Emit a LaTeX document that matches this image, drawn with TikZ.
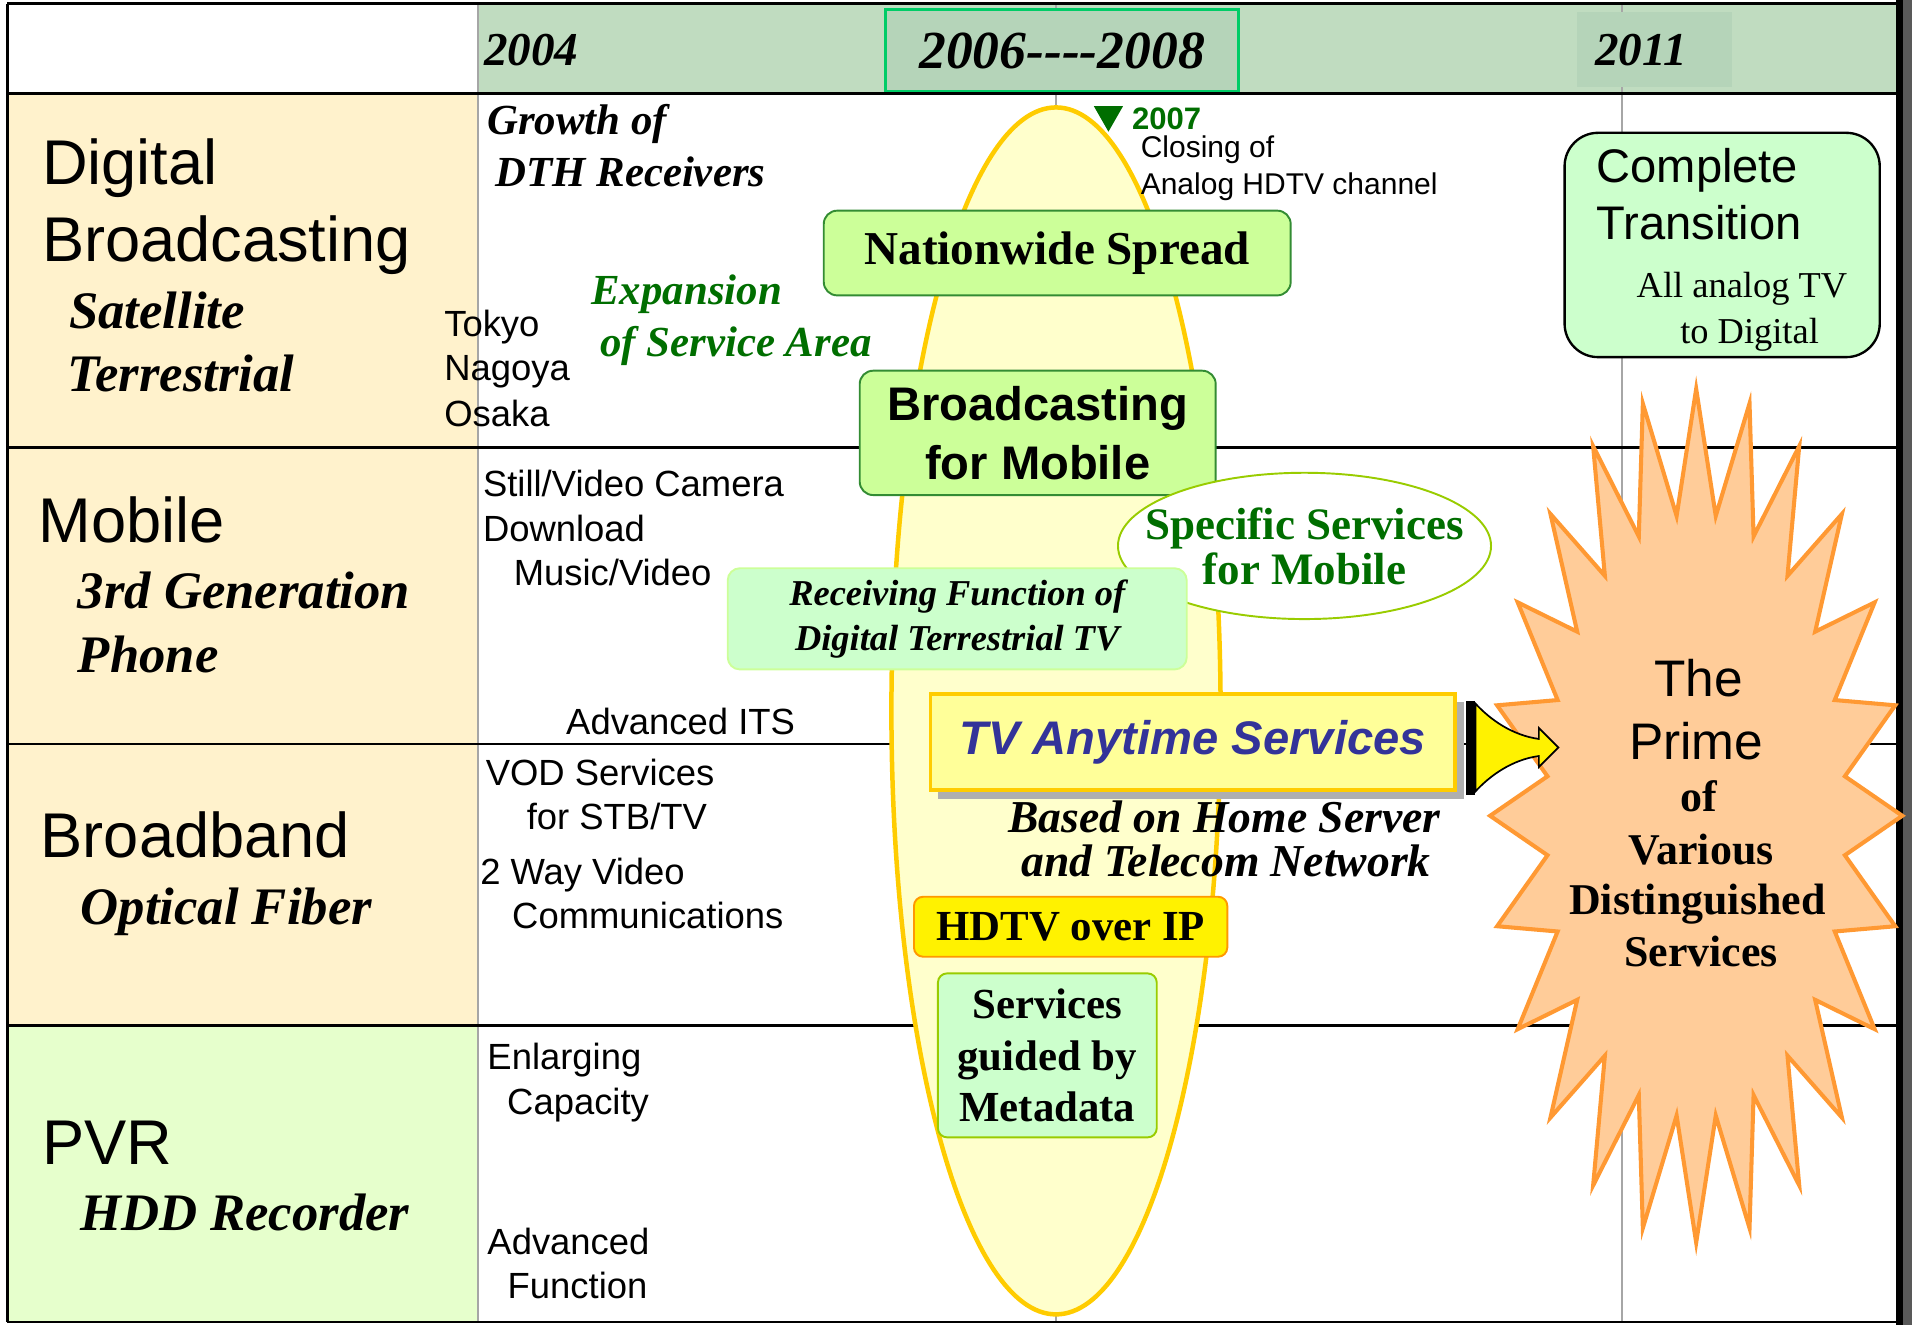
\documentclass[tikz,border=0pt]{standalone}
\usepackage{fontspec}
\setmainfont{Liberation Serif}
\setsansfont{Liberation Sans}
\usetikzlibrary{shapes.geometric}

\definecolor{hdrgreen}{RGB}{192,220,192}
\definecolor{hdrdark}{RGB}{181,212,185}
\definecolor{hdrline}{RGB}{0,204,102}
\definecolor{beige}{RGB}{255,242,204}
\definecolor{pvrgreen}{RGB}{230,255,204}
\definecolor{gridgray}{RGB}{166,166,166}
\definecolor{ovalfill}{RGB}{255,255,204}
\definecolor{ovalline}{RGB}{255,204,0}
\definecolor{leaf}{RGB}{204,255,153}
\definecolor{leafline}{RGB}{51,140,51}
\definecolor{mint}{RGB}{204,255,204}
\definecolor{limeline}{RGB}{153,204,0}
\definecolor{darkgreen}{RGB}{0,110,0}
\definecolor{tvblue}{RGB}{51,51,153}
\definecolor{tvfill}{RGB}{255,255,153}
\definecolor{shadowgray}{RGB}{175,175,175}
\definecolor{starfill}{RGB}{255,204,153}
\definecolor{starline}{RGB}{255,153,51}
\definecolor{hdtvline}{RGB}{255,153,0}

\newcommand{\fnt}[2]{\fontsize{#1}{#2}\selectfont}
\newcommand{\hy}{\mbox{-}}

\tikzset{
	lbltxt/.style={anchor=base west, inner sep=0pt},
	coltxt/.style={lbltxt, font=\sffamily\fnt{17}{21}},
	rowhead/.style={lbltxt, font=\sffamily\fnt{29.5}{36}},
	rowsub/.style={lbltxt, font=\bfseries\itshape\fnt{24.6}{29}},
	yrtxt/.style={lbltxt, font=\bfseries\itshape\fnt{22}{26}},
	dthtxt/.style={lbltxt, font=\bfseries\itshape\fnt{20}{24}},
	startxt/.style={anchor=base, inner sep=0pt, font=\bfseries\fnt{20.5}{24}},
	gridline/.style={draw=gridgray, line width=1.1pt},
	rowline/.style={line width=1.2pt},
	greenbox/.style={draw=leafline, fill=leaf, rounded corners=0.22cm, line width=0.9pt, inner sep=0pt},
}

\begin{document}
\begin{tikzpicture}[x=0.02cm, y=-0.02cm]
	\useasboundingbox (0,0) rectangle (1568,1087);
	% cells
	\fill[hdrgreen] (392,3) rectangle (1555,77);
	\fill[beige] (6,77) rectangle (392,841);
	\fill[pvrgreen] (6,841) rectangle (392,1084);
	% year lines
	\draw[gridline] (392,3) -- (392,1084);
	\draw[gridline] (866,3) -- (866,1084);
	\draw[gridline] (1330,3) -- (1330,1084);
	% header
	\node[draw=hdrline, fill=hdrdark, line width=1.5pt, minimum width=5.8cm, minimum height=1.34cm, inner sep=0pt, font=\bfseries\itshape\fnt{25}{30}] (y0608) at (871,41.5) {2006\hy\hy\hy\hy 2008};
	\node[fill=hdrdark, minimum width=2.55cm, minimum height=1.24cm, inner sep=0pt] (y11box) at (1356.8,40.6) {};
	\node[yrtxt] (y04) at (396.7,54.1) {2004};
	\node[yrtxt] (y11) at (1307.7,53.9) {2011};
	% rows
	\draw[rowline] (6,3) -- (1555,3);
	\draw[rowline, line width=1.4pt] (6,77) -- (1555,77);
	\foreach \y in {367,610,841,1084}
		\draw[rowline] (6,\y) -- (1555,\y);
	\draw[line width=1.5pt] (6,3) -- (6,1084);
	\fill (1555,0) rectangle (1561,1087);
	\fill[black!65] (1561,0) rectangle (1568,1087);

	% row labels
	\node[rowhead] (digital) at (34.1,151.7) {Digital};
	\node[rowhead] (broadc) at (34.1,214.6) {Broadcasting};
	\node[rowsub] (sat) at (56.3,269.3) {Satellite};
	\node[rowsub] (ter) at (55.3,321.2) {Terrestrial};
	\node[rowhead] (mobile) at (31.3,445) {Mobile};
	\node[rowsub] (gen) at (63.5,498.8) {3rd Generation};
	\node[rowsub] (phone) at (63.5,551.5) {Phone};
	\node[rowhead] (bband) at (33.1,703.3) {Broadband};
	\node[rowsub] (fiber) at (65.8,757.9) {Optical Fiber};
	\node[rowhead] (pvr) at (34.5,954.6) {PVR};
	\node[rowsub] (hdd) at (65.3,1008.8) {HDD Recorder};

	% 2004 column
	\node[dthtxt] (growth) at (399.2,110.7) {Growth of};
	\node[dthtxt] (dth) at (405.8,153.1) {DTH Receivers};
	\node[dthtxt, text=darkgreen] (expan) at (484.6,250.1) {Expansion};
	\node[dthtxt, text=darkgreen] (area) at (492,292.5) {of Service Area};
	\node[coltxt] (tokyo) at (364,276) {Tokyo};
	\node[coltxt] (nagoya) at (364,312.4) {Nagoya};
	\node[coltxt] (osaka) at (364,349.4) {Osaka};
	\node[coltxt] (still) at (395.8,407) {Still/Video Camera};
	\node[coltxt] (dl) at (395.8,444) {Download};
	\node[coltxt] (music) at (421,480) {Music/Video};
	\node[coltxt] (its) at (464,602) {Advanced ITS};
	\node[coltxt] (vod) at (398,644) {VOD Services};
	\node[coltxt] (stb) at (431.7,680) {for STB/TV};
	\node[coltxt] (way) at (393.5,725.5) {2 Way Video};
	\node[coltxt] (comm) at (419.7,761.6) {Communications};
	\node[coltxt] (enl) at (399.4,877) {Enlarging};
	\node[coltxt] (cap) at (415.6,914) {Capacity};
	\node[coltxt] (adv) at (399.4,1028.6) {Advanced};
	\node[coltxt] (func) at (416,1065) {Function};

	% oval 2006-2008
	\draw[ovalline, fill=ovalfill, line width=2.1pt] (866,583) ellipse [x radius=2.7cm, y radius=9.9cm];
	\fill[darkgreen] (897,87) -- (921,87) -- (909,108) -- cycle;
	\node[lbltxt, text=darkgreen, font=\sffamily\bfseries\fnt{14.5}{17}] (y07) at (928,106) {2007};
	\node[lbltxt, font=\sffamily\fnt{14}{17}] (closing) at (935.2,129.5) {Closing of};
	\node[lbltxt, font=\sffamily\fnt{14}{17}] (analog) at (935.2,159.9) {Analog HDTV channel};

	\node[greenbox, minimum width=7.66cm, minimum height=1.39cm, font=\bfseries\fnt{22}{26}] (spread) at (867,207.5) {Nationwide Spread};
	\node[greenbox, minimum width=5.84cm, minimum height=2.04cm, align=center, font=\sffamily\bfseries\fnt{22}{27.7}] (bmobile) at (851,355) {Broadcasting\\for Mobile};
	\node[ellipse, draw=limeline, fill=white, line width=0.9pt, minimum width=6.12cm, minimum height=2.4cm, inner sep=0pt] (specific) at (1069.8,447.7) {};
	\node[align=center, inner sep=0pt, text=darkgreen, font=\bfseries\fnt{21}{21}] (spectxt) at (specific) {Specific Services\\for Mobile};
	\node[draw=leaf, fill=mint, rounded corners=0.2cm, line width=0.9pt, minimum width=7.53cm, minimum height=1.66cm, inner sep=0pt, align=center, font=\bfseries\itshape\fnt{17}{21}] (receive) at (785,507.5) {Receiving Function of\\Digital Terrestrial TV};

	% TV Anytime
	\fill[shadowgray] (769,576) rectangle (1200.2,655.5);
	\node[draw=ovalline, fill=tvfill, line width=1.6pt, minimum width=8.6cm, minimum height=1.576cm, inner sep=0pt, text=tvblue, font=\sffamily\bfseries\itshape\fnt{22}{26}] (tvany) at (978.2,608.5) {TV Anytime Services};
	\node[anchor=base, inner sep=0pt, font=\bfseries\itshape\fnt{21.3}{24}] (based) at (1004,682.9) {Based on Home Server};
	\node[anchor=base, inner sep=0pt, font=\bfseries\itshape\fnt{21.3}{24}] (telecom) at (1005.5,718.9) {and Telecom Network};

	\node[draw=hdtvline, fill=yellow, rounded corners=0.15cm, line width=0.9pt, minimum width=5.14cm, minimum height=0.984cm, inner sep=0pt, font=\bfseries\fnt{20}{24}] (hdtv) at (878,760) {HDTV over IP};
	\node[draw=limeline, fill=mint, rounded corners=0.15cm, line width=0.9pt, minimum width=3.59cm, minimum height=2.69cm, inner sep=0pt, align=center, font=\bfseries\fnt{20}{23.9}] (meta) at (858.9,865.5) {Services\\guided by\\Metadata};

	% 2011
	\node[draw, line width=1.1pt, fill=mint, rounded corners=0.55cm, minimum width=5.17cm, minimum height=3.68cm] (complete) at (1412.3,200.9) {};
	\node[lbltxt, font=\sffamily\fnt{22}{26}] (compl) at (1308.9,149.8) {Complete};
	\node[lbltxt, font=\sffamily\fnt{22}{26}] (trans) at (1308.9,196.8) {Transition};
	\node[lbltxt, font=\fnt{17}{20}] (allan) at (1341.9,243.8) {All analog TV};
	\node[lbltxt, font=\fnt{17}{20}] (todig) at (1377.6,281.5) {to Digital};

	% star
	\draw[draw=starline, fill=starfill, line width=1.9pt] (1391,319)
		\foreach \k in {0,...,23} { -- ({1391+123*cos(97.5+15*\k)},{669-248*sin(97.5+15*\k)}) -- ({1391+169*cos(105+15*\k)},{669-350*sin(105+15*\k)}) } -- cycle;
	\node[startxt, font=\sffamily\fnt{24}{28}] (the) at (1393,571) {The};
	\node[startxt, font=\sffamily\fnt{24}{28}] (prime) at (1391,622.6) {Prime};
	\node[startxt] (of) at (1393,665.7) {of};
	\node[startxt] (various) at (1395,708.8) {Various};
	\node[startxt] (disting) at (1392,750.1) {Distinguished};
	\node[startxt] (serv) at (1395,792.4) {Services};

	% flared arrow from TV Anytime into the star
	\fill (1202,575) rectangle (1210,652);
	\draw[fill=yellow, line width=0.8pt] (1210,577) .. controls (1222,590) and (1240,603) .. (1262,606) -- (1262,597) -- (1278,613) -- (1262,629) -- (1262,620) .. controls (1240,623) and (1222,636) .. (1210,649) -- cycle;
\end{tikzpicture}
\end{document}
